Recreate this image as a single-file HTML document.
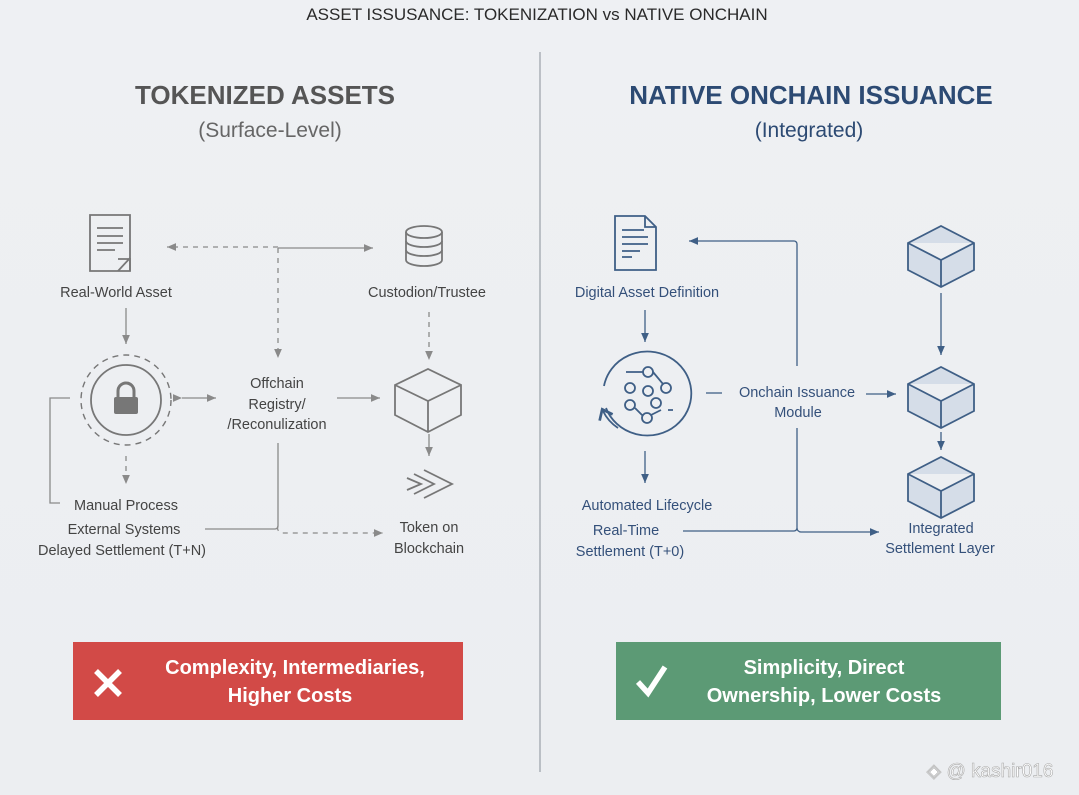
<!DOCTYPE html>
<html><head><meta charset="utf-8"><style>
body{margin:0;width:1079px;height:795px;overflow:hidden;background:#eef0f3;}
svg{display:block;font-family:"Liberation Sans",sans-serif;}
</style></head><body>
<svg width="1079" height="795" viewBox="0 0 1079 795">
<defs>
<marker id="ag" markerWidth="8" markerHeight="8" refX="7" refY="4" orient="auto"><path d="M0,1 L7,4 L0,7 Z" fill="#8a8a8a"/></marker>
<marker id="ab" markerWidth="8" markerHeight="8" refX="7" refY="4" orient="auto"><path d="M0,1 L7,4 L0,7 Z" fill="#3f5f86"/></marker>
<marker id="ab2" markerWidth="10" markerHeight="10" refX="5" refY="5" orient="auto"><path d="M1,1 L6,5 L1,9" fill="none" stroke="#3f5f86" stroke-width="1.5"/></marker>
<linearGradient id="bg" x1="0" y1="0" x2="0" y2="1"><stop offset="0" stop-color="#eef0f3"/><stop offset="1" stop-color="#eceef1"/></linearGradient>
</defs>
<rect width="1079" height="795" fill="url(#bg)"/>
<text x="537" y="20" text-anchor="middle" font-size="17" fill="#2a2a2a">ASSET ISSUSANCE: TOKENIZATION vs NATIVE ONCHAIN</text>
<line x1="540" y1="52" x2="540" y2="772" stroke="#9aa0a8" stroke-width="1.2"/>
<text x="265" y="104" text-anchor="middle" font-size="26" font-weight="bold" fill="#555">TOKENIZED ASSETS</text>
<text x="270" y="137" text-anchor="middle" font-size="21" fill="#666">(Surface-Level)</text>
<text x="811" y="104" text-anchor="middle" font-size="26" font-weight="bold" fill="#2c4a73">NATIVE ONCHAIN ISSUANCE</text>
<text x="809" y="137" text-anchor="middle" font-size="21" fill="#2c4a73">(Integrated)</text>

<!-- LEFT -->
<g stroke="#777" fill="none" stroke-width="1.8">
<path d="M90,215 h40 v56 h-40 Z"/><path d="M97,228h26M97,236h26M97,243h26M97,250h18"/><path d="M118,271 l12,-13 M118,259 h12 v12"/>
<ellipse cx="424" cy="232" rx="18" ry="6"/><path d="M406,232 v28 a18,6 0 0 0 36,0 v-28"/><path d="M406,241 a18,6 0 0 0 36,0 M406,250 a18,6 0 0 0 36,0"/>
<circle cx="126" cy="400" r="35"/><circle cx="126" cy="400" r="45" stroke-dasharray="6 5" stroke-width="1.4"/>
<path d="M395,385 l33,-16 l33,16 v30 l-33,17 l-33,-17 Z M395,385 l33,16 l33,-16 M428,401 v31"/>
<path d="M407,478 l14,6 l-14,6 M414,474 l20,10 l-20,10 M424,470 l28,14 l-28,14"/>
</g>
<rect x="114" y="397" width="24" height="17" rx="2" fill="#777"/><path d="M118,397 v-6 a8,8 0 0 1 16,0 v6" stroke="#777" stroke-width="3" fill="none"/>
<g stroke="#8a8a8a" stroke-width="1.3" fill="none">
<path d="M278,247 h-111" stroke-dasharray="5 5" marker-end="url(#ag)"/>
<path d="M278,248 h95" marker-end="url(#ag)"/>
<path d="M278,248 v110" stroke-dasharray="5 5" marker-end="url(#ag)"/>
<path d="M429,312 v48" stroke-dasharray="5 5" marker-end="url(#ag)"/>
<path d="M126,308 v36" marker-end="url(#ag)"/>
<path d="M126,456 v28" stroke-dasharray="5 5" marker-end="url(#ag)"/>
<path d="M182,398 h34" marker-start="url(#ag)" marker-end="url(#ag)"/>
<path d="M337,398 h43" marker-end="url(#ag)"/>
<path d="M429,434 v22" marker-end="url(#ag)"/>
<path d="M70,398 h-20 v105 h10"/>
<path d="M205,529 h70 a3,3 0 0 0 3,-3 v-83"/>
<path d="M278,526 a5,5 0 0 0 5,7 h100" stroke-dasharray="5 5" marker-end="url(#ag)"/>
</g>
<g font-size="14.5" fill="#444" text-anchor="middle">
<text x="116" y="297">Real-World Asset</text>
<text x="427" y="297">Custodion/Trustee</text>
<text x="277" y="388">Offchain</text><text x="277" y="409">Registry/</text><text x="277" y="429">/Reconulization</text>
<text x="126" y="510">Manual Process</text>
<text x="124" y="534">External Systems</text>
<text x="122" y="555">Delayed Settlement (T+N)</text>
<text x="429" y="532">Token on</text><text x="429" y="553">Blockchain</text>
</g>

<!-- RIGHT -->
<g stroke="#3f5f86" fill="none" stroke-width="1.8">
<path d="M615,216 h30 l11,11 v43 h-41 Z M645,216 v11 h11"/><path d="M622,230h22M622,237h26M622,244h26M622,251h18M622,257h10"/>
<circle cx="648" cy="372" r="5"/><circle cx="630" cy="388" r="5"/><circle cx="648" cy="391" r="5"/><circle cx="666" cy="388" r="5"/><circle cx="656" cy="403" r="5"/><circle cx="630" cy="405" r="5"/><circle cx="647" cy="418" r="5"/>
<path d="M626,372 h17 M635,408 l8,8 M651,415 l10,-5 M668,410 h5 M653,372 l10,12"/>
<path d="M908,243 l33,-17 l33,17 v27 l-33,17 l-33,-17 Z M908,243 l33,17 l33,-17 M941,260 v27" fill="#d5dde8"/>
<path d="M908,384 l33,-17 l33,17 v27 l-33,17 l-33,-17 Z M908,384 l33,17 l33,-17 M941,401 v27" fill="#d5dde8"/>
<path d="M908,474 l33,-17 l33,17 v27 l-33,17 l-33,-17 Z M908,474 l33,17 l33,-17 M941,491 v27" fill="#d5dde8"/>
</g>
<path d="M604,386 A44,42 0 1 1 606,408" stroke="#3f5f86" stroke-width="1.8" fill="none"/>
<path d="M618,428 A44,42 0 0 1 603,411" stroke="#3f5f86" stroke-width="1.8" fill="none" marker-end="url(#ab2)"/>
<g stroke="#3f5f86" stroke-width="1.3" fill="none">
<path d="M645,310 v32" marker-end="url(#ab)"/>
<path d="M645,451 v32" marker-end="url(#ab)"/>
<path d="M797,366 v-122 a3,3 0 0 0 -3,-3 h-105" marker-end="url(#ab)"/>
<path d="M706,393 h16"/>
<path d="M866,394 h30" marker-end="url(#ab)"/>
<path d="M941,293 v62" marker-end="url(#ab)"/>
<path d="M941,432 v18" marker-end="url(#ab)"/>
<path d="M683,531 h111 a3,3 0 0 0 3,-3 v-100"/>
<path d="M797,528 a4,4 0 0 0 4,4 h78" marker-end="url(#ab)"/>
</g>
<g font-size="14.5" fill="#34507a" text-anchor="middle">
<text x="647" y="297">Digital Asset Definition</text>
<text x="797" y="397">Onchain Issuance</text><text x="798" y="417">Module</text>
<text x="647" y="510">Automated Lifecycle</text>
<text x="626" y="535">Real-Time</text><text x="630" y="556">Settlement (T+0)</text>
<text x="941" y="533">Integrated</text><text x="940" y="553">Settlement Layer</text>
</g>

<!-- bottom boxes -->
<rect x="73" y="642" width="390" height="78" fill="#d24a47"/>
<path d="M96,671 l24,24 M120,671 l-24,24" stroke="#fff" stroke-width="5.5"/>
<text x="295" y="674" text-anchor="middle" font-size="20" font-weight="bold" fill="#fff">Complexity, Intermediaries,</text>
<text x="290" y="702" text-anchor="middle" font-size="20" font-weight="bold" fill="#fff">Higher Costs</text>
<rect x="616" y="642" width="385" height="78" fill="#5c9a75"/>
<path d="M638,682 l10,11 l17,-26" stroke="#fff" stroke-width="5.5" fill="none"/>
<text x="824" y="674" text-anchor="middle" font-size="20" font-weight="bold" fill="#fff">Simplicity, Direct</text>
<text x="824" y="702" text-anchor="middle" font-size="20" font-weight="bold" fill="#fff">Ownership, Lower Costs</text>
<text x="990" y="777" text-anchor="middle" font-size="19" fill="#fff" stroke="#aaa" stroke-width="0.6">◈ @ kashir016</text>
</svg>
</body></html>
